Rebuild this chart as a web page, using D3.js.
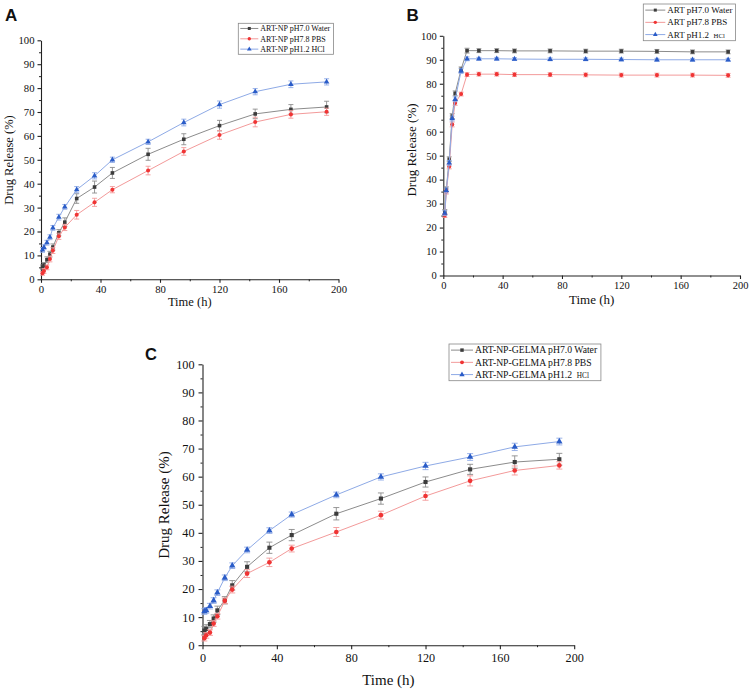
<!DOCTYPE html>
<html><head><meta charset="utf-8">
<script src="https://cdn.jsdelivr.net/npm/d3@7/dist/d3.min.js"></script>
<style>body{margin:0;background:#fff}svg{display:block}svg text{font-family:"Liberation Serif","Times New Roman",serif;}svg text.letter{font-family:"Liberation Sans",Arial,sans-serif;font-weight:bold}</style>
</head><body>
<svg id="c" width="752" height="695"></svg>
<script>
const times = [1,2,4,6,8,12,16,24,36,48,72,96,120,144,168,192];
const xTicks = [0,40,80,120,160,200];
const yTicks = [0,10,20,30,40,50,60,70,80,90,100];

// Panel A: ART-NP
const aNames = ["ART-NP pH7.0 Water","ART-NP pH7.8 PBS","ART-NP pH1.2 HCl"];
const aWater = [5,6,8.2,10.5,13.5,19.5,23.9,33.8,38.6,44.5,52.3,58.6,64.3,69.2,71.1,72.1];
const aPBS   = [2.5,3.5,5,8.5,12,18,21.7,27,32.2,37.5,45.5,53.5,60.4,65.8,69,70.1];
const aHCl   = [12.3,13.4,15.3,17.6,21.5,26,30.3,37.5,43.3,50,57.5,65.6,73.1,78.5,81.6,82.6];
const aWaterErr = [1,1,1.2,1.2,1.3,1.3,1.8,2,2.5,2.3,2.5,2.3,2.2,2,2,2.4];
const aPBSErr   = [0.8,1,1,1.2,1.2,1.3,1.3,1.8,1.7,1.3,1.8,1.6,1.8,2,1.6,1.5];
const aHClErr   = [1,1,1,1,1,1.2,1,1.3,1.3,1.1,1.1,1.4,1.5,1.3,1.4,1.3];

// Panel B: ART
const bNames = ["ART pH7.0 Water","ART pH7.8 PBS","ART pH1.2 HCl"];
const bWater = [26.5,36,48.5,66.5,76,86,93.8,93.8,93.8,93.7,93.7,93.6,93.6,93.5,93.3,93.3];
const bPBS   = [25,35,45.5,63,72,75.7,83.8,84,84,83.8,83.8,83.7,83.6,83.6,83.6,83.5];
const bHCl   = [26,35.5,47,65.5,73.5,85.3,90.4,90.4,90.4,90.3,90.2,90.2,90.1,90,90,90];
const bWaterErr = [1,1,1,1,1,1,1,0.8,0.8,0.8,0.8,0.8,0.8,0.8,0.8,0.8];
const bPBSErr   = [0.8,1,1,1,1,0.8,0.8,0.8,0.8,0.8,0.8,0.8,0.8,0.8,0.8,0.8];
const bHClErr   = [1,1,1,1,1,1,0.8,0.6,0.6,0.6,0.6,0.6,0.6,0.6,0.6,0.6];

// Panel C: ART-NP-GELMA
const cNames = ["ART-NP-GELMA pH7.0 Water","ART-NP-GELMA pH7.8 PBS","ART-NP-GELMA pH1.2 HCl"];
const cWater = [5.2,5.8,7.5,9.5,12.4,16,21.3,27.9,34.7,39.2,46.8,52.2,58.1,62.6,65.2,66.2];
const cPBS   = [2.5,3.5,4.5,7.7,10.3,15.8,19.8,25.5,29.5,34.4,40.3,46.3,53.1,58.5,62.2,64];
const cHCl   = [12,12.4,13.9,15.9,18.7,24,28.3,33.9,40.8,46.5,53.5,59.9,63.8,67,70.6,72.5];
const cWaterErr = [1.5,1.5,1.3,1.3,1.5,1.3,1.7,1.8,2,2,2.2,2,1.8,1.8,2.2,2.1];
const cPBSErr   = [1,1,1,1,1,1,1.2,1.4,1.5,1.2,1.6,1.4,1.5,1.8,1.6,1.3];
const cHClErr   = [1,1,1,1,1,1,1,1,1,0.9,1,1.1,1.3,1.2,1.3,1.2];

const styles = [
  {mark:"#3c3c3c", line:"#8c8c8c", sym:d3.symbolSquare, size:1},
  {mark:"#f03434", line:"#f39a9a", sym:d3.symbolCircle, size:1},
  {mark:"#2a5cc8", line:"#8eaae6", sym:d3.symbolTriangle, size:1.05}
];

const svg = d3.select("#c");

function panel(cfg){
  const g = svg.append("g");
  const x = d3.scaleLinear().domain([0,200]).range([cfg.x0,cfg.x1]);
  const y = d3.scaleLinear().domain([0,100]).range([cfg.y0,cfg.y1]);
  g.append("g").attr("transform",`translate(${cfg.x0},0)`)
    .call(d3.axisLeft(y).tickValues(d3.range(5,100,10)).tickSize(2).tickFormat("").tickSizeOuter(0))
    .call(s=>s.select(".domain").remove());
  g.append("g").attr("transform",`translate(0,${cfg.y0})`)
    .call(d3.axisBottom(x).tickValues(d3.range(20,200,40)).tickSize(2).tickFormat("").tickSizeOuter(0))
    .call(s=>s.select(".domain").remove());
  const ya = g.append("g").attr("transform",`translate(${cfg.x0},0)`)
    .call(d3.axisLeft(y).tickValues(yTicks).tickSize(cfg.tick).tickPadding(cfg.pad).tickSizeOuter(0));
  const xa = g.append("g").attr("transform",`translate(0,${cfg.y0})`)
    .call(d3.axisBottom(x).tickValues(xTicks).tickSize(cfg.tick).tickPadding(cfg.pad).tickSizeOuter(0));
  [ya,xa].forEach(a=>{
    a.attr("font-family",null);
    a.selectAll("text").style("font-size",cfg.tfs+"px").attr("fill","#111");
    a.selectAll("line,path").attr("stroke","#222").attr("stroke-width",1.1);
  });
  g.selectAll(".tick line").attr("stroke","#222");

  g.append("text").attr("x",(cfg.x0+cfg.x1)/2).attr("y",cfg.xtY).attr("text-anchor","middle")
    .style("font-size",cfg.afs+"px").attr("fill","#111").text("Time (h)");
  g.append("text").attr("transform",`translate(${cfg.ytX},${cfg.ytYc}) rotate(-90)`).attr("text-anchor","middle")
    .style("font-size",cfg.afs+"px").attr("fill","#111").text("Drug Release (%)");
  g.append("text").attr("class","letter").attr("x",cfg.lx).attr("y",cfg.ly)
    .style("font-size",cfg.lfs+"px").attr("fill","#111").text(cfg.letter);

  const line = d3.line().x((d,i)=>x(times[i])).y(d=>y(d));
  cfg.series.forEach((vals,k)=>{
    const st = styles[k], errs = cfg.errs[k];
    const sg = g.append("g");
    sg.append("path").attr("d",line(vals)).attr("fill","none").attr("stroke",st.line).attr("stroke-width",1);
    vals.forEach((v,i)=>{
      const cx = x(times[i]), e = errs[i];
      const top = y(v+e), bot = y(v-e);
      sg.append("line").attr("x1",cx).attr("x2",cx).attr("y1",top).attr("y2",bot).attr("stroke",st.line).attr("stroke-width",0.9);
      [top,bot].forEach(yy=>sg.append("line").attr("x1",cx-cfg.cap).attr("x2",cx+cfg.cap).attr("y1",yy).attr("y2",yy).attr("stroke",st.line).attr("stroke-width",0.9));
    });
    sg.selectAll("path.m").data(vals).join("path").attr("class","m")
      .attr("transform",(d,i)=>`translate(${x(times[i])},${y(d)})`)
      .attr("d",d3.symbol().type(st.sym).size(cfg.msize*st.size)).attr("fill",st.mark);
  });

  const lg = g.append("g");
  const rect = lg.append("rect").attr("x",cfg.legX).attr("y",cfg.legY).attr("height",cfg.legH)
    .attr("fill","#fff").attr("stroke","#888").attr("stroke-width",0.8);
  let maxR = 0;
  cfg.names.forEach((nm,k)=>{
    const st = styles[k];
    const ry = cfg.legY + cfg.legH*(k+0.5)/3;
    lg.append("line").attr("x1",cfg.legX+2).attr("x2",cfg.legX+2+cfg.legLine).attr("y1",ry).attr("y2",ry)
      .attr("stroke",st.line).attr("stroke-width",1);
    lg.append("path").attr("transform",`translate(${cfg.legX+2+cfg.legLine/2},${ry})`)
      .attr("d",d3.symbol().type(st.sym).size(cfg.msize*0.7*st.size)).attr("fill",st.mark);
    const t = lg.append("text").attr("x",cfg.legX+4+cfg.legLine).attr("y",ry+cfg.legFs*0.34)
      .style("font-size",cfg.legFs+"px").attr("fill","#111");
    if(nm.endsWith("HCl") && cfg.smallHCl){
      t.append("tspan").text(nm.slice(0,-3)+"\u00a0");
      t.append("tspan").style("font-size",(cfg.legFs*0.75)+"px").text("HCl");
    } else t.text(nm);
    const bb = t.node().getBBox();
    maxR = Math.max(maxR, bb.x+bb.width);
  });
  rect.attr("width", maxR - cfg.legX + 3);
}

panel({letter:"A", lx:5, ly:21, lfs:17,
  x0:41, x1:338.5, y0:279.3, y1:40.3, tick:3.5, pad:3, tfs:10.7, afs:12.5,
  xtY:306, ytX:12.5, ytYc:160, cap:2.5, msize:13,
  series:[aWater,aPBS,aHCl], errs:[aWaterErr,aPBSErr,aHClErr], names:aNames,
  legX:238.3, legY:23.3, legH:31, legLine:18, legFs:8, smallHCl:false});

panel({letter:"B", lx:406.5, ly:21, lfs:17,
  x0:443.3, x1:740, y0:275.5, y1:35.8, tick:3.5, pad:3, tfs:10.5, afs:13,
  xtY:304, ytX:416, ytYc:150, cap:2.5, msize:13,
  series:[bWater,bPBS,bHCl], errs:[bWaterErr,bPBSErr,bHClErr], names:bNames,
  legX:643.3, legY:4, legH:36.7, legLine:20, legFs:9, smallHCl:true});

panel({letter:"C", lx:145, ly:360, lfs:16.5,
  x0:202.5, x1:574.2, y0:645.2, y1:364.3, tick:4, pad:4, tfs:12.2, afs:15,
  xtY:685, ytX:168.5, ytYc:505, cap:3, msize:17,
  series:[cWater,cPBS,cHCl], errs:[cWaterErr,cPBSErr,cHClErr], names:cNames,
  legX:449, legY:344, legH:36.7, legLine:22, legFs:9.7, smallHCl:true});
</script>
</body></html>
